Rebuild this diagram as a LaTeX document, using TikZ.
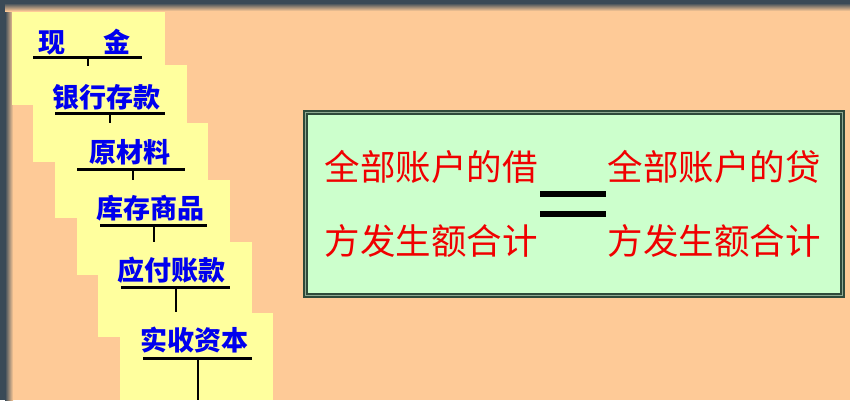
\documentclass[tikz,border=0pt]{standalone}
\usepackage{fontspec}
\newfontfamily\cjk{Noto Sans CJK SC}
\definecolor{frame}{HTML}{3A4A57}
\definecolor{peach}{HTML}{FECA97}
\definecolor{paleyellow}{HTML}{FFFF9E}
\definecolor{mint}{HTML}{CCFFCC}
\definecolor{boxdark}{HTML}{2E4A3A}
\definecolor{boxmid}{HTML}{8FAA92}
\definecolor{acctblue}{HTML}{0000EE}
\definecolor{sumred}{HTML}{F00000}
\tikzset{
  acct/.style={font=\cjk\bfseries\fontsize{27}{29}\selectfont, text=acctblue, inner sep=0pt},
  sumtext/.style={font=\cjk\fontsize{35.5}{38}\selectfont, text=sumred, inner sep=0pt},
  tbar/.style={line width=3pt, black},
  tstem/.style={line width=2pt, black},
  eqbar/.style={line width=6pt, black},
  card/.style={fill=paleyellow}
}
\begin{document}
\begin{tikzpicture}[x=1pt,y=-1pt]
\useasboundingbox (0,0) rectangle (850,400);
% background and dark frame
\fill[frame] (0,0) rectangle (850,400);
\fill[peach] (11,9) rectangle (850,400);
\shade[left color=frame,right color=peach] (5,9) rectangle (13,400);
\shade[top color=frame,bottom color=peach] (5,3) rectangle (850,11);
% staggered yellow cards
\fill[card] (12,12) rectangle (165,105);
\fill[card] (33,65) rectangle (187,162);
\fill[card] (55,123) rectangle (208,218);
\fill[card] (77,180) rectangle (230,275);
\fill[card] (98,242) rectangle (252,337);
\fill[card] (120,313) rectangle (273,400);
% account names
\node[acct] (a1) at (84.5,42) {现\hspace{38pt}金};
\node[acct] (a2) at (106.5,97) {银行存款};
\node[acct] (a3) at (130,152) {原材料};
\node[acct] (a4) at (150,208) {库存商品};
\node[acct] (a5) at (171.5,270) {应付账款};
\node[acct] (a6) at (194,340) {实收资本};
% T-account bars
\coordinate (l1) at (33,57);  \coordinate (r1) at (142,57);
\coordinate (s1) at (88,57);  \coordinate (e1) at (88,66);
\coordinate (l2) at (55,113); \coordinate (r2) at (165,113);
\coordinate (s2) at (110,113); \coordinate (e2) at (110,123);
\coordinate (l3) at (77,169); \coordinate (r3) at (185,169);
\coordinate (s3) at (133,169); \coordinate (e3) at (133,180);
\coordinate (l4) at (100,225); \coordinate (r4) at (207,225);
\coordinate (s4) at (154,225); \coordinate (e4) at (154,242);
\coordinate (l5) at (121,287); \coordinate (r5) at (230,287);
\coordinate (s5) at (176,287); \coordinate (e5) at (176,312);
\coordinate (l6) at (143,358); \coordinate (r6) at (252,358);
\coordinate (s6) at (198,358); \coordinate (e6) at (198,400);
\foreach \i in {1,...,6}{
  \draw[tbar] (l\i) -- (r\i);
  \draw[tstem] (s\i) -- (e\i);
}
% summary box
\node[draw=boxdark, line width=5pt, fill=mint, minimum width=537pt, minimum height=183pt, inner sep=0pt] (box) at (574,204) {};
\draw[boxmid, line width=1.6pt] (305.5,112.5) rectangle (842.5,295.5);
\node[sumtext] (d1) at (431,167) {全部账户的借};
\node[sumtext] (d2) at (431,241) {方发生额合计};
\node[sumtext] (c1) at (714,167) {全部账户的贷};
\node[sumtext] (c2) at (714,241) {方发生额合计};
\coordinate (q1l) at (540,194); \coordinate (q1r) at (606,194);
\coordinate (q2l) at (540,214); \coordinate (q2r) at (606,214);
\draw[eqbar] (q1l) -- (q1r);
\draw[eqbar] (q2l) -- (q2r);
\end{tikzpicture}
\end{document}
